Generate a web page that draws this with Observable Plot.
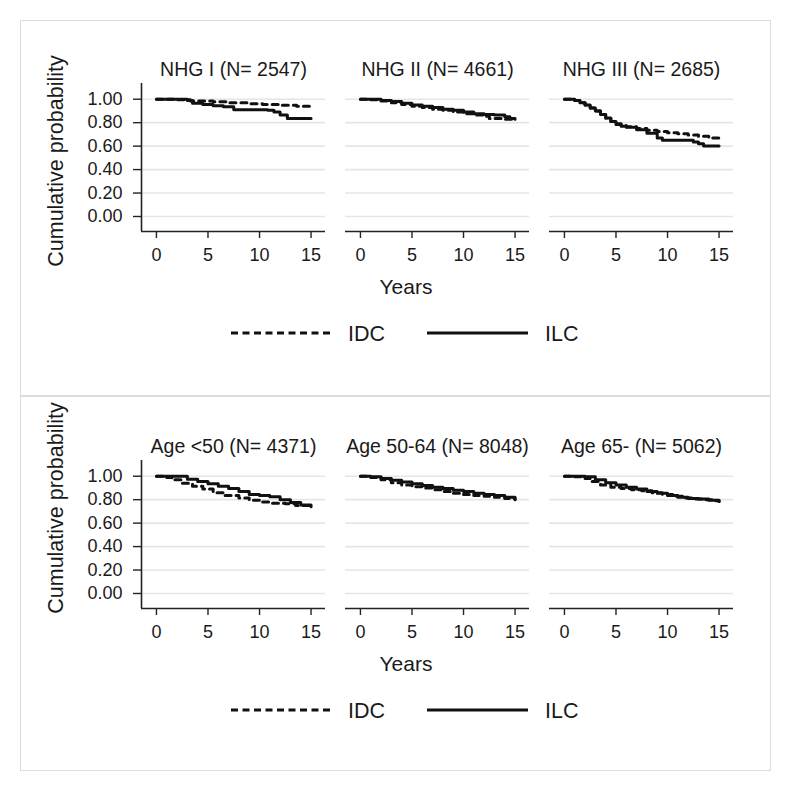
<!DOCTYPE html>
<html>
<head>
<meta charset="utf-8">
<script src="https://cdn.jsdelivr.net/npm/d3@7"></script>
<script src="https://cdn.jsdelivr.net/npm/@observablehq/plot@0.6"></script>
<style>
  html, body { margin: 0; padding: 0; background: #fff; }
  #page { position: relative; width: 790px; height: 790px; font-family: "Liberation Sans", Arial, sans-serif; color: #1a1a1a; overflow: hidden; }
  .box { position: absolute; border: 1.5px solid #dcdcdc; box-sizing: border-box; }
  .lbl { position: absolute; white-space: nowrap; transform: translate(-50%, -50%); }
  .plotwrap { position: absolute; left: 0; }
</style>
</head>
<body>
<div id="page"></div>
<script>
// ---- Facet titles ----
const titlesTop = ["NHG I (N= 2547)", "NHG II (N= 4661)", "NHG III (N= 2685)"];
const titlesBottom = ["Age <50 (N= 4371)", "Age 50-64 (N= 8048)", "Age 65- (N= 5062)"];
const seriesNames = ["IDC", "ILC"];
const xTicks = [0, 5, 10, 15];
const yTicks = [0, 0.2, 0.4, 0.6, 0.8, 1.0];

// ---- NHG I ----
const nhg1IdcT = [0, 2, 3.3, 5.5, 6.8, 9, 10.3, 12, 13.6, 15];
const nhg1IdcS = [1, 0.995, 0.985, 0.978, 0.97, 0.962, 0.955, 0.948, 0.94, 0.94];
const nhg1IlcT = [0, 3, 3.5, 4.5, 5.5, 6.5, 7.5, 10.8, 11.4, 12, 12.7, 15];
const nhg1IlcS = [1, 0.99, 0.965, 0.955, 0.945, 0.935, 0.91, 0.905, 0.89, 0.865, 0.835, 0.835];
// ---- NHG II ----
const nhg2IdcT = [0, 1, 2, 3, 4, 5, 6, 7, 8, 9, 10, 11, 12, 12.5, 14, 15];
const nhg2IdcS = [1, 0.995, 0.985, 0.97, 0.955, 0.94, 0.93, 0.915, 0.905, 0.89, 0.875, 0.865, 0.855, 0.835, 0.83, 0.825];
const nhg2IlcT = [0, 1.5, 2, 3, 4, 5, 6, 7, 8, 9, 10, 11, 12, 13, 14, 14.5, 15];
const nhg2IlcS = [1, 1, 0.99, 0.98, 0.965, 0.95, 0.94, 0.93, 0.915, 0.905, 0.89, 0.875, 0.87, 0.865, 0.85, 0.835, 0.83];
// ---- NHG III ----
const nhg3IdcT = [0, 0.8, 1, 1.5, 2, 2.5, 3, 3.5, 4, 4.5, 5, 5.5, 6, 7, 8, 9, 10, 11, 12, 13, 14, 15];
const nhg3IdcS = [1, 1, 0.99, 0.97, 0.95, 0.925, 0.9, 0.87, 0.84, 0.81, 0.79, 0.775, 0.765, 0.75, 0.735, 0.725, 0.715, 0.705, 0.695, 0.685, 0.67, 0.665];
const nhg3IlcT = [0, 0.8, 1, 1.5, 2, 2.5, 3, 3.5, 4, 4.5, 5, 5.5, 6, 7, 8, 9, 9.5, 12, 12.5, 13, 13.5, 15];
const nhg3IlcS = [1, 1, 0.99, 0.97, 0.95, 0.925, 0.9, 0.87, 0.84, 0.81, 0.785, 0.77, 0.76, 0.74, 0.71, 0.67, 0.65, 0.65, 0.635, 0.62, 0.6, 0.6];
// ---- Age <50 ----
const age1IdcT = [0, 1, 1.5, 2.5, 3.5, 4.5, 5.5, 6.5, 8, 9, 10, 11, 12.5, 13.5, 15];
const age1IdcS = [1, 0.99, 0.97, 0.94, 0.915, 0.89, 0.86, 0.835, 0.815, 0.795, 0.78, 0.77, 0.765, 0.75, 0.735];
const age1IlcT = [0, 2, 3, 4, 5, 6, 7, 8, 9, 10, 11, 12, 13, 14, 15];
const age1IlcS = [1, 1, 0.975, 0.955, 0.935, 0.915, 0.895, 0.87, 0.845, 0.835, 0.825, 0.8, 0.775, 0.755, 0.74];
// ---- Age 50-64 ----
const age2IdcT = [0, 1, 2, 3, 4, 5, 6, 7, 8, 9, 10, 11, 12, 13, 14, 15];
const age2IdcS = [1, 0.99, 0.97, 0.945, 0.925, 0.91, 0.9, 0.885, 0.87, 0.855, 0.845, 0.835, 0.83, 0.82, 0.81, 0.8];
const age2IlcT = [0, 1, 2, 3, 4, 5, 6, 7, 8, 9, 10, 11, 12, 13, 14, 15];
const age2IlcS = [1, 0.995, 0.98, 0.965, 0.95, 0.935, 0.92, 0.905, 0.895, 0.88, 0.87, 0.855, 0.845, 0.835, 0.82, 0.805];
// ---- Age 65- ----
const age3IdcT = [0, 1, 2, 2.5, 3.5, 4.5, 5.5, 6.5, 7.5, 8.5, 9.5, 10.5, 11.5, 12.5, 13.5, 14.5, 15];
const age3IdcS = [1, 0.995, 0.98, 0.955, 0.925, 0.905, 0.895, 0.885, 0.875, 0.86, 0.845, 0.83, 0.815, 0.805, 0.8, 0.79, 0.785];
const age3IlcT = [0, 1, 2, 3, 4, 5, 6, 7, 8, 9, 10, 11, 12, 13, 14, 15];
const age3IlcS = [1, 1, 0.995, 0.97, 0.945, 0.925, 0.905, 0.89, 0.87, 0.855, 0.835, 0.82, 0.81, 0.805, 0.795, 0.785];

function rows(facet, type, T, S) { return T.map((t, i) => ({facet, type, t, s: S[i]})); }

const topRows = [
  ...rows(titlesTop[0], "IDC", nhg1IdcT, nhg1IdcS), ...rows(titlesTop[0], "ILC", nhg1IlcT, nhg1IlcS),
  ...rows(titlesTop[1], "IDC", nhg2IdcT, nhg2IdcS), ...rows(titlesTop[1], "ILC", nhg2IlcT, nhg2IlcS),
  ...rows(titlesTop[2], "IDC", nhg3IdcT, nhg3IdcS), ...rows(titlesTop[2], "ILC", nhg3IlcT, nhg3IlcS)
];
const bottomRows = [
  ...rows(titlesBottom[0], "IDC", age1IdcT, age1IdcS), ...rows(titlesBottom[0], "ILC", age1IlcT, age1IlcS),
  ...rows(titlesBottom[1], "IDC", age2IdcT, age2IdcS), ...rows(titlesBottom[1], "ILC", age2IlcT, age2IlcS),
  ...rows(titlesBottom[2], "IDC", age3IdcT, age3IdcS), ...rows(titlesBottom[2], "ILC", age3IlcT, age3IlcS)
];

const xDomain = [-1.45, 16.4];
const yDomain = [-0.128, 1.134];
const FONT = "Liberation Sans, Arial, sans-serif";

function panel(data, titles) {
  return Plot.plot({
    width: 790,
    height: 270,
    marginLeft: 140,
    marginRight: 56,
    marginTop: 83,
    marginBottom: 39,
    style: {fontFamily: FONT, color: "#1a1a1a", background: "transparent", overflow: "visible"},
    fx: {domain: titles, padding: 0.1, axis: null},
    x: {domain: xDomain},
    y: {domain: yDomain},
    marks: [
      Plot.ruleY(yTicks, {stroke: "#e6e6e6", strokeWidth: 1.6}),
      Plot.ruleY([yDomain[0]], {stroke: "#222", strokeWidth: 1.6}),
      Plot.ruleX([titles[0]], {fx: d => d, x: xDomain[0], stroke: "#222", strokeWidth: 1.6}),
      Plot.axisX(xTicks, {tickSize: 7, tickPadding: 10, fontSize: 18, label: null, stroke: "#222", strokeWidth: 1.4}),
      Plot.axisY(yTicks, {tickSize: 8, tickPadding: 11, fontSize: 18, label: null, tickFormat: d3.format(".2f"), stroke: "#222", strokeWidth: 1.4}),
      Plot.text(titles, {fx: d => d, text: d => d, frameAnchor: "top", lineAnchor: "middle", dy: -14, fontSize: 19.5, fill: "#1a1a1a"}),
      Plot.line(data.filter(d => d.type === "IDC"), {x: "t", y: "s", fx: "facet", curve: "step-after", stroke: "#111", strokeWidth: 3, strokeDasharray: "6,5"}),
      Plot.line(data.filter(d => d.type === "ILC"), {x: "t", y: "s", fx: "facet", curve: "step-after", stroke: "#111", strokeWidth: 3})
    ]
  });
}

const page = document.getElementById("page");

function box(x, y, w, h) {
  const b = document.createElement("div");
  b.className = "box";
  Object.assign(b.style, {left: x + "px", top: y + "px", width: w + "px", height: h + "px"});
  page.appendChild(b);
}
function label(text, cx, cy, size, rotate) {
  const d = document.createElement("div");
  d.className = "lbl";
  d.textContent = text;
  d.style.left = cx + "px";
  d.style.top = cy + "px";
  d.style.fontSize = size + "px";
  if (rotate) d.style.transform = "translate(-50%, -50%) rotate(-90deg)";
  page.appendChild(d);
}
function legend(yc) {
  const ns = "http://www.w3.org/2000/svg";
  const svg = document.createElementNS(ns, "svg");
  svg.setAttribute("width", 790);
  svg.setAttribute("height", 30);
  svg.style.position = "absolute";
  svg.style.left = "0px";
  svg.style.top = (yc - 15) + "px";
  const items = [
    {name: seriesNames[0], x1: 231, x2: 331, tx: 348, dash: "7,4.5"},
    {name: seriesNames[1], x1: 427, x2: 528, tx: 545, dash: null}
  ];
  for (const it of items) {
    const l = document.createElementNS(ns, "line");
    l.setAttribute("x1", it.x1); l.setAttribute("x2", it.x2);
    l.setAttribute("y1", 15); l.setAttribute("y2", 15);
    l.setAttribute("stroke", "#111"); l.setAttribute("stroke-width", 3.2);
    if (it.dash) l.setAttribute("stroke-dasharray", it.dash);
    svg.appendChild(l);
    const t = document.createElementNS(ns, "text");
    t.setAttribute("x", it.tx); t.setAttribute("y", 15);
    t.setAttribute("dy", "0.35em");
    t.setAttribute("font-size", 21.5);
    t.setAttribute("font-family", FONT);
    t.setAttribute("fill", "#1a1a1a");
    t.textContent = it.name;
    svg.appendChild(t);
  }
  page.appendChild(svg);
}

box(20, 20, 751, 377);
box(20, 395, 751, 376);

const topWrap = document.createElement("div");
topWrap.className = "plotwrap";
topWrap.style.top = "0px";
topWrap.appendChild(panel(topRows, titlesTop));
page.appendChild(topWrap);

const botWrap = document.createElement("div");
botWrap.className = "plotwrap";
botWrap.style.top = "377px";
botWrap.appendChild(panel(bottomRows, titlesBottom));
page.appendChild(botWrap);

label("Cumulative probability", 56, 161, 21.5, true);
label("Cumulative probability", 56, 508, 21.5, true);
label("Years", 406, 287, 21);
label("Years", 406, 664, 21);
legend(333);
legend(710);
</script>
</body>
</html>
